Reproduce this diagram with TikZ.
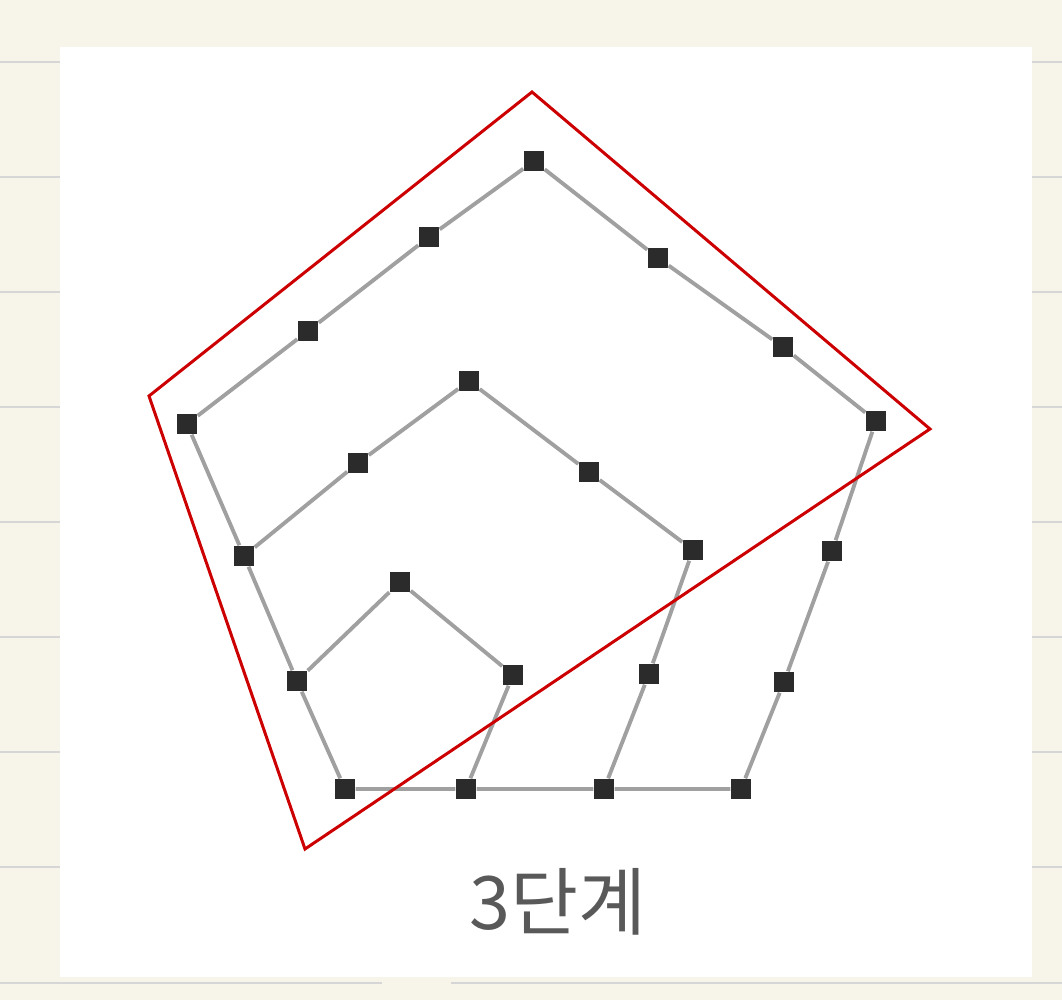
\documentclass[tikz,border=0pt]{standalone}
\usepackage{fontspec}
\newfontfamily\krfont{Noto Sans CJK KR}
\usepackage{xcolor}
\usetikzlibrary{positioning}
\definecolor{paper}{HTML}{F7F5E9}
\definecolor{rule}{HTML}{D6D6D6}
\definecolor{dotc}{HTML}{2B2B2B}
\definecolor{edgec}{HTML}{A0A0A0}
\definecolor{frame}{HTML}{CC0000}

\begin{document}
\begin{tikzpicture}[
  x=0.01cm, y=-0.01cm,
  dot/.style={fill=dotc, minimum size=0.2cm, inner sep=0pt, rectangle},
  edge/.style={draw=edgec, line width=1.1pt},
  ruling/.style={draw=rule, line width=0.45pt},
  redline/.style={draw=frame, line width=0.85pt, line join=miter},
]
% --- paper and ruled lines
\fill[paper] (0,0) rectangle (1062,1000);
\useasboundingbox (0,0) rectangle (1062,1000);
\foreach \y in {62,177,...,867} \draw[ruling] (0,\y) -- (1062,\y);
\draw[ruling] (0,983) -- (382,983);
\draw[ruling] (451,983) -- (1062,983);
\fill[white] (60,47) rectangle (1032,977);

% --- shared corner
\node[dot] (p0) at (345,789) {};
% --- inner pentagon
\node[dot] (a1) at (466,789) {};
\node[dot] (a2) at (513,675) {};
\node[dot] (a3) at (400,582) {};
\node[dot] (a4) at (297,681) {};
% --- middle pentagon
\node[dot] (m2) at (604,789) {};
\node[dot] (m3) at (649,674) {};
\node[dot] (m4) at (693,550) {};
\node[dot] (m5) at (589,472) {};
\node[dot] (m6) at (469,381) {};
\node[dot] (m7) at (358,463) {};
\node[dot] (m8) at (244,556) {};
% --- outer pentagon
\node[dot] (o1) at (741,789) {};
\node[dot] (o2) at (784,682) {};
\node[dot] (o3) at (832,551) {};
\node[dot] (o4) at (876,421) {};
\node[dot] (o5) at (783,347) {};
\node[dot] (o6) at (658,258) {};
\node[dot] (o7) at (534,161) {};
\node[dot] (o8) at (429,237) {};
\node[dot] (o9) at (308,331) {};
\node[dot] (o10) at (187,424) {};

% edges
\draw[edge] (p0) -- (a1) -- (a2) -- (a3) -- (a4) -- (p0);
\draw[edge] (a1) -- (m2) -- (m3) -- (m4) -- (m5) -- (m6) -- (m7) -- (m8) -- (a4);
\draw[edge] (m2) -- (o1) -- (o2) -- (o3) -- (o4) -- (o5) -- (o6) -- (o7)
  -- (o8) -- (o9) -- (o10) -- (m8);

% --- red frame
\coordinate (r1) at (532,92);
\coordinate (r2) at (930,429);
\coordinate (r3) at (305,849);
\coordinate (r4) at (149,396);
\draw[redline] (r1) -- (r2) -- (r3) -- (r4) -- cycle;

% caption
\node[font=\krfont\fontsize{21}{23}\selectfont, text=black!65] (cap) at (558,902) {3단계};
\end{tikzpicture}
\end{document}
